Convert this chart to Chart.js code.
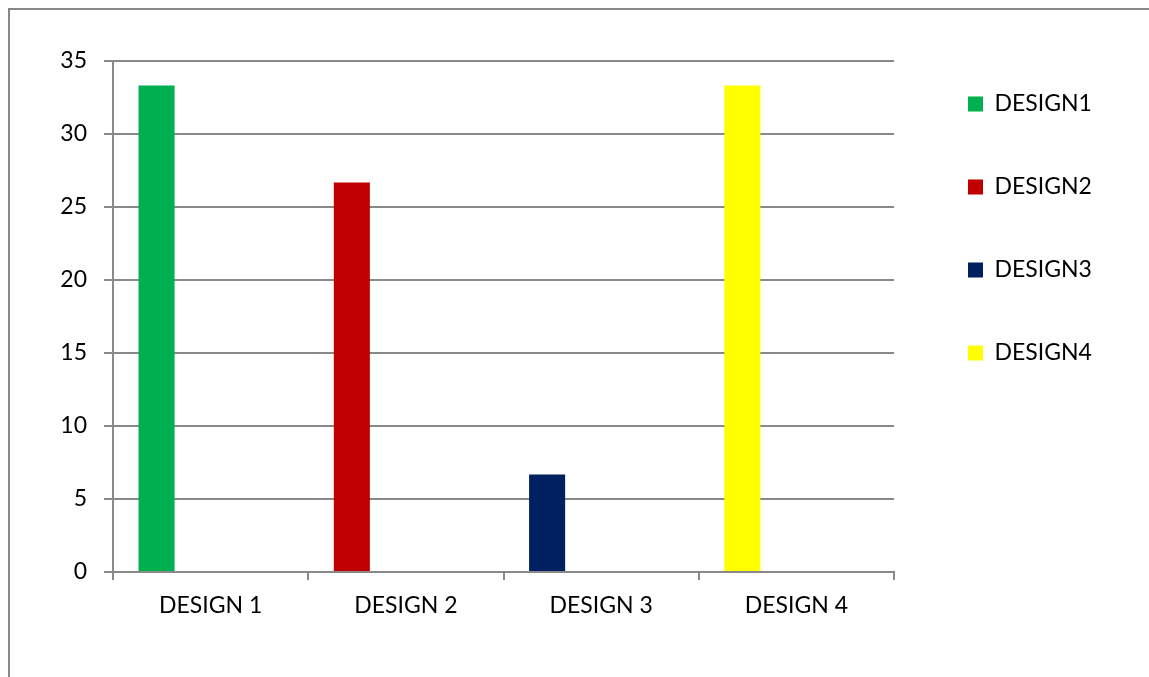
<!DOCTYPE html>
<html>
<head>
<meta charset="utf-8">
<script src="https://cdn.jsdelivr.net/npm/chart.js@4.4.1/dist/chart.umd.min.js"></script>
<style>
  body { margin: 0; background: #fff; }
  #frame { position: absolute; left: 8px; top: 8px; width: 1300px; height: 900px; border: 2px solid #888; }
  #wrap { position: absolute; left: 0; top: 0; width: 1149px; height: 677px; }
</style>
</head>
<body>
<div id="frame"></div>
<div id="wrap"><canvas id="myChart"></canvas></div>
<script>
var categories = ['DESIGN 1', 'DESIGN 2', 'DESIGN 3', 'DESIGN 4'];
var seriesNames = ['DESIGN1', 'DESIGN2', 'DESIGN3', 'DESIGN4'];
var design1 = [33.33, null, null, null];
var design2 = [null, 26.67, null, null];
var design3 = [null, null, 6.67, null];
var design4 = [null, null, null, 33.33];
var colors = ['#00B050', '#C00000', '#002060', '#FFFF00'];
var yTicks = [0, 5, 10, 15, 20, 25, 30, 35];

var font = { family: 'Lato', size: 23 };
var gridColor = '#898989';

var seriesData = [design1, design2, design3, design4];
var datasets = [];
for (var i in seriesData) {
  datasets.push({
    label: seriesNames[i],
    data: seriesData[i],
    backgroundColor: colors[i],
    stack: 'main'
  });
}
// empty series that keep the other slots of each group free (like Excel)
['s2', 's3', 's4'].forEach(function (s) {
  datasets.push({ label: '', data: [null, null, null, null], stack: s, backgroundColor: 'rgba(0,0,0,0)' });
});

// move the legend to where the reference has it
var legendSpot = {
  id: 'legendSpot',
  afterLayout: function (chart) {
    var lg = chart.legend;
    var pad = lg.options.labels.padding;
    lg.left = 968 - pad;
    lg.top = 104 - font.size / 2 - pad;
    lg.right = chart.width;
    lg.bottom = chart.height;
    lg.width = lg.right - lg.left;
    lg.height = lg.bottom - lg.top;
  }
};

var config = {
  type: 'bar',
  data: { labels: categories, datasets: datasets },
  plugins: [legendSpot],
  options: {
    responsive: true,
    maintainAspectRatio: false,
    animation: false,
    layout: { padding: { left: 0, top: 61, right: 61, bottom: 0 } },
    datasets: { bar: { categoryPercentage: 144 / 195, barPercentage: 1 } },
    plugins: {
      tooltip: { enabled: false },
      legend: {
        position: 'right',
        align: 'start',
        labels: {
          color: '#000',
          font: font,
          boxWidth: 15,
          boxHeight: 15,
          padding: 60,
          filter: function (item) { return item.text !== ''; }
        }
      }
    },
    scales: {
      x: {
        grid: { display: true, drawOnChartArea: false, drawTicks: true, tickLength: 8, color: gridColor, lineWidth: 2, offset: true },
        border: { display: true, color: gridColor, width: 2 },
        ticks: { color: '#000', font: font, padding: 12 },
        afterFit: function (s) { s.height = 105; }
      },
      y: {
        stacked: true,
        min: 0,
        max: 35,
        afterBuildTicks: function (s) { s.ticks = yTicks.map(function (v) { return { value: v }; }); },
        grid: { color: gridColor, lineWidth: 2, tickLength: 9 },
        border: { display: true, color: gridColor, width: 2 },
        ticks: { color: '#000', font: font, padding: 17 },
        afterFit: function (s) { s.width = 113; }
      }
    }
  }
};

var myChart = new Chart(document.getElementById('myChart'), config);
</script>
</body>
</html>
